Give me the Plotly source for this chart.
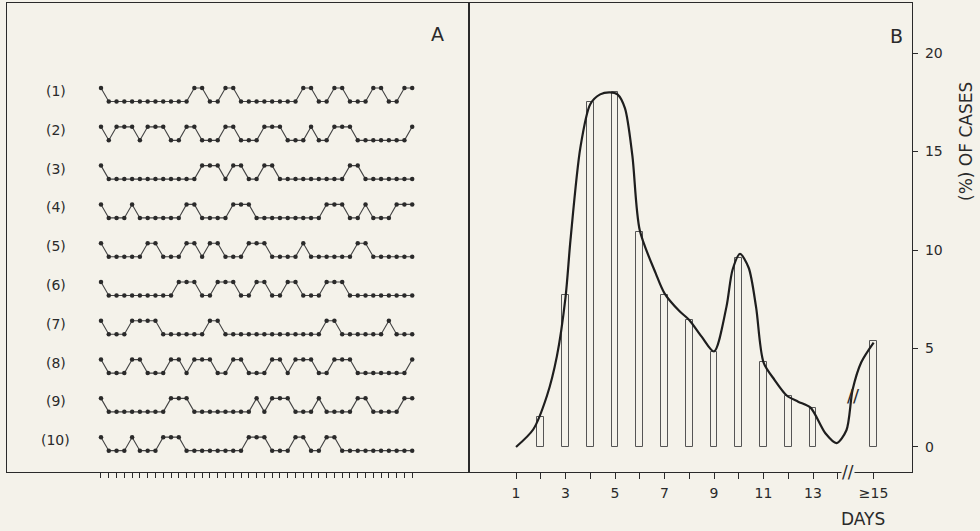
import plotly.graph_objects as go

# ---------------- Panel A data: daily state (1 = high, 0 = low), 41 days ----------------
days_a = list(range(1, 42))
row_labels = ["(1)", "(2)", "(3)", "(4)", "(5)", "(6)", "(7)", "(8)", "(9)", "(10)"]

row1 = [1,0,0,0,0,0,0,0,0,0,0,0,1,1,0,0,1,1,0,0,0,0,0,0,0,0,1,1,0,0,1,1,0,0,0,1,1,0,0,1,1]
row2 = [1,0,1,1,1,0,1,1,1,0,0,1,1,0,0,0,1,1,0,0,0,1,1,1,0,0,0,1,0,0,1,1,1,0,0,0,0,0,0,0,1]
row3 = [1,0,0,0,0,0,0,0,0,0,0,0,0,1,1,1,0,1,1,0,0,1,1,0,0,0,0,0,0,0,0,0,1,1,0,0,0,0,0,0,0]
row4 = [1,0,0,0,1,0,0,0,0,0,0,1,1,0,0,0,0,1,1,1,0,0,0,0,0,0,0,0,0,1,1,1,0,0,1,0,0,0,1,1,1]
row5 = [1,0,0,0,0,0,1,1,0,0,0,1,1,0,1,1,0,0,0,1,1,1,0,0,0,0,1,0,0,0,0,0,0,1,1,0,0,0,0,0,0]
row6 = [1,0,0,0,0,0,0,0,0,0,1,1,1,0,0,1,1,1,0,0,1,1,0,0,1,1,0,0,0,1,1,1,0,0,0,0,0,0,0,0,0]
row7 = [1,0,0,0,1,1,1,1,0,0,0,0,0,0,1,1,0,0,0,0,0,0,0,0,0,0,0,0,0,1,1,0,0,0,0,0,0,1,0,0,0]
row8 = [1,0,0,0,1,1,0,0,0,1,1,0,1,1,1,0,0,1,1,0,0,0,1,1,0,1,1,1,0,0,1,1,1,0,0,0,0,0,0,0,1]
row9 = [1,0,0,0,0,0,0,0,0,1,1,1,0,0,0,0,0,0,0,0,1,0,1,1,1,0,0,0,1,0,0,0,0,1,1,0,0,0,0,1,1]
row10 = [1,0,0,0,1,0,0,0,1,1,1,0,0,0,0,0,0,0,0,1,1,1,0,0,0,1,1,0,0,1,1,0,0,0,0,0,0,0,0,0,0]
rows = [row1, row2, row3, row4, row5, row6, row7, row8, row9, row10]

# ---------------- Panel B data ----------------
bar_days = [2, 3, 4, 5, 6, 7, 8, 9, 10, 11, 12, 13, 15.45]
bar_pct = [1.5, 7.7, 17.5, 18.0, 10.9, 7.7, 6.45, 4.8, 9.6, 4.3, 2.6, 2.0, 5.4]

curve_x = [1.0, 1.7, 2.25, 2.65, 3.0, 3.2, 3.6, 4.0, 4.4, 4.8, 5.1, 5.4, 5.7, 6.0,
           6.65, 7.0, 7.6, 8.0, 8.5, 9.0, 9.5, 9.75, 10.05, 10.4, 10.7, 11.0, 11.45,
           11.95, 12.4, 12.9, 13.5, 13.95, 14.35, 14.6, 14.95, 15.45]
curve_y = [0.0, 0.9, 2.6, 4.6, 7.6, 10.5, 15.2, 17.4, 17.9, 18.0, 17.9, 17.2, 14.8, 11.0,
           8.8, 7.8, 6.9, 6.45, 5.6, 4.85, 7.1, 9.0, 9.8, 9.1, 7.1, 4.3, 3.4,
           2.6, 2.3, 2.0, 0.7, 0.2, 0.85, 2.9, 4.3, 5.3]

x_tickvals = [1, 2, 3, 4, 5, 6, 7, 8, 9, 10, 11, 12, 13, 14, 15.45]
x_ticktext = ["1", "", "3", "", "5", "", "7", "", "9", "", "11", "", "13", "", "≥15"]
y_tickvals = [0, 5, 10, 15, 20]

# ---------------- Layout geometry (pixels) ----------------
W, H = 980, 531
BG = "#f4f2ea"
INK = "#2a2a2a"
FONT = "DejaVu Sans"
left_a, split, right_b = 7, 469, 912
top, bottom = 3, 472
amp = 0.348  # row swing in row-spacing units

def px_x(p):
    return p / W

def px_y(p):
    return 1 - p / H

fig = go.Figure()

for k, r in enumerate(rows):
    fig.add_trace(go.Scatter(
        x=days_a, y=[-k + amp * s for s in r],
        mode="lines+markers",
        line=dict(color="#444444", width=1.1),
        marker=dict(color=INK, size=4.5),
        xaxis="x", yaxis="y", showlegend=False, hoverinfo="skip"))
    fig.add_annotation(x=-4.8, y=-k + 0.27, xref="x", yref="y", text=row_labels[k],
                       xanchor="center", yanchor="middle",
                       showarrow=False, font=dict(family=FONT, size=14, color=INK))

fig.add_trace(go.Bar(
    x=bar_days, y=bar_pct, width=0.27,
    marker=dict(color=BG, line=dict(color="#555555", width=1)),
    xaxis="x2", yaxis="y2", showlegend=False, hoverinfo="skip"))

fig.add_trace(go.Scatter(
    x=curve_x, y=curve_y, mode="lines",
    line=dict(color="#1e1e1e", width=2.2, shape="spline", smoothing=0.8),
    xaxis="x2", yaxis="y2", showlegend=False, hoverinfo="skip"))

dom_y = [px_y(bottom), px_y(top)]
fig.update_layout(
    width=W, height=H,
    margin=dict(l=0, r=0, t=0, b=0),
    paper_bgcolor=BG, plot_bgcolor=BG,
    font=dict(family=FONT, color=INK),
    bargap=0,
    xaxis=dict(domain=[px_x(left_a), px_x(split)], range=[-11.08, 48.3],
               showgrid=False, zeroline=False, showline=True, linecolor=INK, linewidth=1.2,
               mirror=True, ticks="outside", ticklen=5, tickcolor=INK, tickwidth=1,
               tickvals=days_a, showticklabels=False),
    yaxis=dict(domain=dom_y, range=[-9.55, 2.54], showgrid=False, zeroline=False,
               showline=True, linecolor=INK, linewidth=1.2, mirror=True,
               showticklabels=False, ticks=""),
    xaxis2=dict(domain=[px_x(split), px_x(right_b)], range=[-0.9, 17.0], anchor="y2",
                showgrid=False, zeroline=False, showline=True, linecolor=INK, linewidth=1.2,
                mirror=True, ticks="outside", ticklen=6, tickcolor=INK, tickwidth=1,
                tickvals=x_tickvals, ticktext=x_ticktext, ticklabelstandoff=2,
                tickfont=dict(family=FONT, size=14, color=INK)),
    yaxis2=dict(domain=dom_y, range=[-1.27, 22.54], anchor="x2", side="right",
                showgrid=False, zeroline=False, showline=True, linecolor=INK, linewidth=1.2,
                mirror=True, ticks="outside", ticklen=5, tickcolor=INK, tickwidth=1,
                tickvals=y_tickvals, ticklabelstandoff=4,
                tickfont=dict(family=FONT, size=14, color=INK)),
)

def label(x, y, text, size, angle=0, **kw):
    fig.add_annotation(x=px_x(x), y=px_y(y), xref="paper", yref="paper", text=text,
                       xanchor="center", yanchor="middle", textangle=angle,
                       showarrow=False, font=dict(family=FONT, size=size, color=INK), **kw)

label(437, 34, "A", 19)
label(896, 36, "B", 19)
label(863, 519, "DAYS", 17)
label(966, 142, "(%) OF CASES", 17, angle=-90)
# axis break mark
label(848, 472, "//", 17, bgcolor=BG, borderpad=0)
# curve break mark
fig.add_annotation(x=14.62, y=2.6, xref="x2", yref="y2", text="//",
                   xanchor="center", yanchor="middle",
                   showarrow=False, font=dict(family=FONT, size=18, color=INK))

fig.write_html("out.html", config={"displayModeBar": False},
               post_script="document.body.style.margin='0px';")
